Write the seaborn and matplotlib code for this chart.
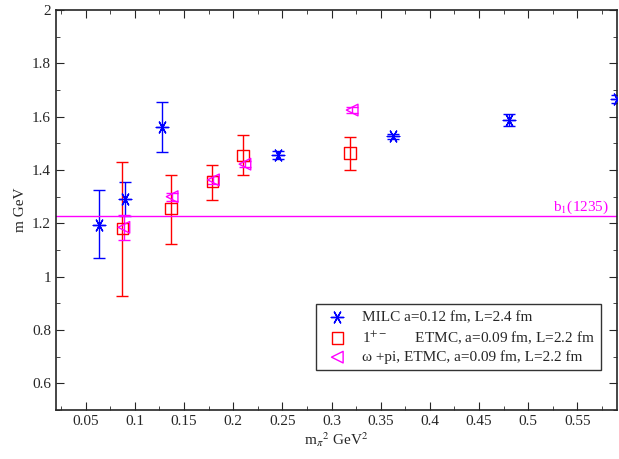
import matplotlib
matplotlib.use("Agg")
import matplotlib.pyplot as plt
import seaborn as sns
import pandas as pd

sns.set_style("ticks")
plt.rcParams['font.family'] = ['Liberation Serif', 'DejaVu Serif']
plt.rcParams['mathtext.fontset'] = 'stix'

milc_x = [0.064, 0.0906, 0.128, 0.246, 0.362, 0.480, 0.590]
milc_y = [1.195, 1.292, 1.561, 1.457, 1.526, 1.587, 1.665]
milc_lo = [1.071, 1.228, 1.468, 1.442, 1.516, 1.565, 1.650]
milc_hi = [1.326, 1.356, 1.657, 1.472, 1.536, 1.610, 1.680]

etmc_x = [0.0875, 0.137, 0.179, 0.210, 0.319]
etmc_y = [1.180, 1.255, 1.357, 1.454, 1.463]
etmc_lo = [0.926, 1.124, 1.286, 1.381, 1.401]
etmc_hi = [1.430, 1.382, 1.420, 1.531, 1.523]

om_x = [0.089, 0.138, 0.180, 0.212, 0.321]
om_y = [1.185, 1.300, 1.363, 1.422, 1.625]
om_lo = [1.139, 1.285, 1.348, 1.410, 1.613]
om_hi = [1.232, 1.315, 1.378, 1.434, 1.637]

b1_mass = 1.228

fig = plt.figure(figsize=(6.19, 4.59), dpi=100)
ax = fig.add_axes([0.0905, 0.107, 0.906, 0.871])

series = [
    (milc_x, milc_y, milc_lo, milc_hi, 'blue', (6, 2, 30), 'MILC a=0.12 fm, L=2.4 fm'),
    (etmc_x, etmc_y, etmc_lo, etmc_hi, 'red', 's', '1$^{+-}$       ETMC, a=0.09 fm, L=2.2 fm'),
    (om_x, om_y, om_lo, om_hi, 'magenta', '<', 'ω +pi, ETMC, a=0.09 fm, L=2.2 fm'),
]
for xs, ys, lo, hi, c, m, lab in series:
    yerr = [[y - l for y, l in zip(ys, lo)], [h - y for y, h in zip(ys, hi)]]
    ax.errorbar(xs, ys, yerr=yerr, fmt='none', ecolor=c, elinewidth=1, capsize=4, capthick=1, zorder=2)
    df = pd.DataFrame({'x': xs, 'y': ys})
    if isinstance(m, tuple):
        sns.scatterplot(data=df, x='x', y='y', ax=ax, marker=m, s=80, color=c,
                        edgecolor=c, linewidth=1, label=lab, zorder=3)
    else:
        sns.scatterplot(data=df, x='x', y='y', ax=ax, marker=m, s=70,
                        facecolors='none', edgecolor=c, color=c, linewidth=1, label=lab, zorder=3)

ax.axhline(b1_mass, color='magenta', lw=1)
ax.text(0.525, b1_mass + 0.02, 'b$_1$(1235)', color='magenta', fontsize=11)

ax.set_xlim(0.02, 0.59)
ax.set_ylim(0.5, 2.0)
ax.set_xticks([0.05, 0.1, 0.15, 0.2, 0.25, 0.3, 0.35, 0.4, 0.45, 0.5, 0.55])
ax.set_xticklabels(['0.05', '0.1', '0.15', '0.2', '0.25', '0.3', '0.35', '0.4', '0.45', '0.5', '0.55'])
ax.set_yticks([0.6, 0.8, 1.0, 1.2, 1.4, 1.6, 1.8, 2.0])
ax.set_yticklabels(['0.6', '0.8', '1', '1.2', '1.4', '1.6', '1.8', '2'])
ax.set_xticks([0.025 + 0.05 * i for i in range(12)], minor=True)
ax.set_yticks([0.5 + 0.1 * i for i in range(16)], minor=True)
ax.tick_params(which='both', direction='in', top=True, right=True, labelsize=11)
ax.tick_params(which='major', length=6)
ax.tick_params(which='minor', length=3)
for s in ax.spines.values():
    s.set_linewidth(1.2)
ax.set_xlabel(r'm$_\pi$$^2$ GeV$^2$', fontsize=11, labelpad=2)
ax.set_ylabel('m GeV', fontsize=11)

leg = ax.legend(loc='lower right', bbox_to_anchor=(0.985, 0.08), fancybox=False, edgecolor='black',
                fontsize=11, handletextpad=0.6, borderpad=0.4, labelspacing=0.3)
leg.get_frame().set_linewidth(1)

fig.savefig('out.png', dpi=100)
